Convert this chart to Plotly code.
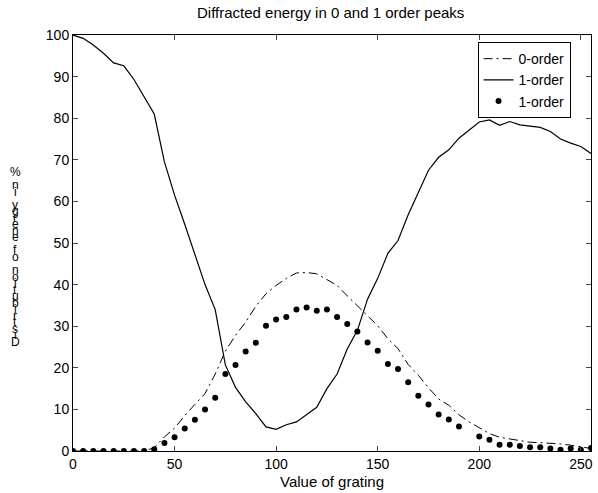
import plotly.graph_objects as go

x_vals = list(range(0, 256, 5))

zero_order = [0, 0, 0, 0, 0, 0, 0, 0, 0.8, 3.4, 5.5, 8.5, 11.2, 13.8, 18.5, 24.0,
              27.8, 31.0, 34.8, 37.8, 39.8, 41.5, 42.8, 42.9, 42.6, 41.2, 39.8, 37.3,
              34.9, 32.4, 30.1, 27.0, 24.6, 20.8, 18.2, 15.2, 12.5, 11.0, 8.7, 7.0,
              5.5, 4.2, 3.3, 2.9, 2.4, 2.1, 2.0, 1.9, 1.7, 1.4, 1.0, 0.6]

first_order_line = [100, 99.2, 97.6, 95.6, 93.3, 92.6, 89.3, 85.2, 81.0, 69.5, 61.5,
                    54.5, 47.5, 40.0, 34.0, 20.7, 15.3, 11.8, 9.0, 5.8, 5.2, 6.3, 7.0,
                    8.7, 10.5, 15.0, 18.5, 24.5, 29.0, 36.5, 41.5, 47.5, 50.6, 56.8,
                    62.0, 67.5, 70.6, 72.4, 75.2, 77.2, 79.1, 79.6, 78.3, 79.2, 78.4,
                    78.1, 77.8, 76.8, 75.0, 74.0, 73.2, 71.5]

dot_x = [0, 5, 10, 15, 20, 25, 30, 35, 40, 45, 50, 55, 60, 65, 70, 75, 80, 85, 90, 95,
         100, 105, 110, 115, 120, 125, 130, 135, 140, 145, 150, 155, 160, 165, 170,
         175, 180, 185, 190, 200, 205, 210, 215, 220, 225, 230, 235, 240, 245, 250, 255]
dot_y = [0, 0, 0, 0, 0, 0, 0, 0, 0.4, 1.9, 3.3, 5.4, 7.5, 10.0, 12.8, 18.5, 20.7, 23.9,
         26.0, 30.1, 31.6, 32.2, 34.0, 34.5, 33.7, 34.0, 32.2, 30.5, 28.7, 26.1, 24.1,
         20.9, 19.7, 16.5, 13.3, 11.2, 8.8, 7.6, 5.9, 3.5, 2.7, 1.5, 1.5, 1.2, 0.9, 0.9,
         0.6, 0.3, 0.6, 0.3, 0.7]

x_ticks = [0, 50, 100, 150, 200, 250]
y_ticks = [0, 10, 20, 30, 40, 50, 60, 70, 80, 90, 100]

title_text = "Diffracted energy in 0 and 1 order peaks"
x_label = "Value of grating"
y_label = "Distribution of energy in %"

FONT = "Liberation Sans, Arial, Helvetica, sans-serif"

fig = go.Figure()
fig.add_trace(go.Scatter(x=x_vals, y=zero_order, mode="lines", name="0-order",
                         line=dict(color="black", width=1, dash="9px,4px,2px,4px")))
fig.add_trace(go.Scatter(x=x_vals, y=first_order_line, mode="lines", name="1-order",
                         line=dict(color="black", width=1.2)))
fig.add_trace(go.Scatter(x=dot_x, y=dot_y, mode="markers", name="1-order",
                         marker=dict(color="black", size=6)))

# stacked y-axis label (characters stacked bottom-to-top, upright)
plot_top_px, plot_bot_px = 35, 451
chars = list(y_label)
n = len(chars)
top_c, bot_c = 172, 342
step = (bot_c - top_c) / (n - 1)
annotations = []
for i, ch in enumerate(reversed(chars)):
    py = top_c + i * step
    yp = (plot_bot_px - py) / (plot_bot_px - plot_top_px)
    annotations.append(dict(text=ch, xref="paper", yref="paper", x=0, y=yp,
                            xanchor="center", yanchor="middle", xshift=-58,
                            showarrow=False, font=dict(size=12, color="black", family=FONT)))

fig.update_layout(
    width=598, height=493,
    margin=dict(l=73, r=5, t=35, b=42),
    paper_bgcolor="white", plot_bgcolor="white",
    font=dict(family=FONT, size=14, color="black"),
    title=dict(text=title_text, x=0.553, xanchor="center", y=0.985, yanchor="top",
               font=dict(size=15)),
    showlegend=True,
    legend=dict(x=0.781, y=0.983, xanchor="left", yanchor="top",
                bordercolor="black", borderwidth=1, bgcolor="white",
                font=dict(size=14), tracegroupgap=0, itemwidth=30),
    annotations=annotations,
)
fig.update_xaxes(range=[0, 255], tickvals=x_ticks, ticks="inside", ticklen=5,
                 showline=True, linecolor="black", linewidth=1, mirror="ticks",
                 showgrid=False, zeroline=False,
                 title=dict(text=x_label, standoff=5, font=dict(size=15)))
fig.update_yaxes(range=[0, 100], tickvals=y_ticks, ticks="inside", ticklen=5,
                 showline=True, linecolor="black", linewidth=1, mirror="ticks",
                 showgrid=False, zeroline=False)

fig.write_html("out.html")
